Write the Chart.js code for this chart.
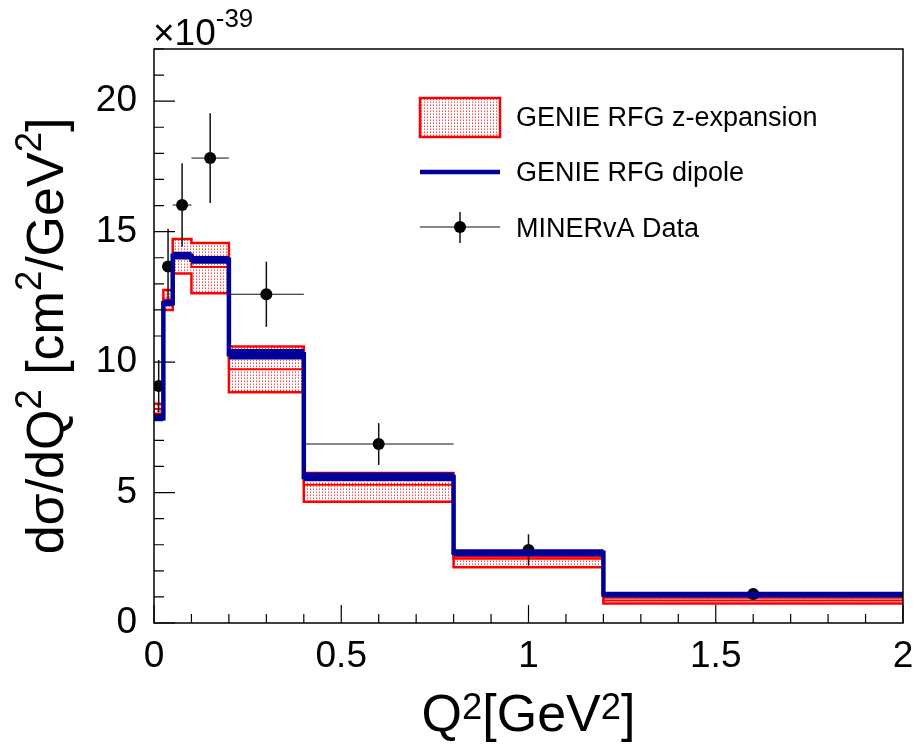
<!DOCTYPE html>
<html>
<head>
<meta charset="utf-8">
<script src="https://cdn.jsdelivr.net/npm/chart.js@4.4.1/dist/chart.umd.min.js"></script>
<style>
  html, body { margin: 0; padding: 0; background: #fff; }
  canvas { display: block; }
</style>
</head>
<body>
<canvas id="chart" width="919" height="747"></canvas>
<script>
// Q2 bin edges (GeV^2) and per-bin values (x1e-39 cm^2/GeV^2)
const binEdges = [0, 0.025, 0.05, 0.1, 0.2, 0.4, 0.8, 1.2, 2.0];

// GENIE RFG dipole (thick blue histogram) and its narrow stat band
const dipole = [7.85, 12.26, 14.08, 13.92, 10.3, 5.6, 2.69, 1.09];
const dipoleErr = [0.12, 0.12, 0.15, 0.15, 0.2, 0.17, 0.13, 0.11];

// GENIE RFG z-expansion band
const zexpHigh = [8.4, 12.76, 14.72, 14.56, 10.6, 5.75, 2.55, 0.98];
const zexpMid = [8.2, 12.4, 14.05, 13.64, 9.73, 5.3, 2.46, 0.86];
const zexpLow = [8.02, 12.0, 13.4, 12.64, 8.84, 4.65, 2.14, 0.75];

// MINERvA data points
const dataX = [0.0125, 0.0375, 0.075, 0.15, 0.3, 0.6, 1.0, 1.6];
const dataY = [9.08, 13.66, 16.02, 17.82, 12.6, 6.86, 2.8, 1.11];
const dataErr = [1.0, 1.45, 1.6, 1.72, 1.25, 0.8, 0.6, 0.23];

// tick labels
const xTickValues = [0, 0.5, 1, 1.5, 2];
const yTickValues = [0, 5, 10, 15, 20];

const FONT = '"Liberation Sans", Arial, Helvetica, sans-serif';
const BLUE = '#000099';
const RED = '#ff0000';

// turn per-bin values into step points (left edge of each bin + closing right edge)
function histPoints(vals) {
    return binEdges.map((x, i) => ({ x: x, y: vals[Math.min(i, vals.length - 1)] }));
}

const ctx = document.getElementById('chart').getContext('2d');

// dotted red fill like ROOT fill style
function dotPattern() {
    const c = document.createElement('canvas');
    c.width = 3; c.height = 3;
    const g = c.getContext('2d');
    g.fillStyle = '#fff';
    g.fillRect(0, 0, 3, 3);
    g.fillStyle = '#ff4d4d';
    g.fillRect(1, 0, 1, 1);
    g.fillStyle = '#ff9a9a';
    g.fillRect(1, 2, 1, 1);
    return ctx.createPattern(c, 'repeat');
}
const dots = dotPattern();

// draw text with superscripts; parts = [[text, isSup], ...]
function richText(g, parts, x, y, size, supScale, raise, align) {
    const supSize = size * supScale;
    let total = 0;
    parts.forEach(p => {
        g.font = (p[1] ? supSize : size) + 'px ' + FONT;
        total += g.measureText(p[0]).width;
    });
    let cx = align === 'center' ? x - total / 2 : x;
    g.textAlign = 'left';
    g.textBaseline = 'alphabetic';
    parts.forEach(p => {
        g.font = (p[1] ? supSize : size) + 'px ' + FONT;
        g.fillText(p[0], cx, p[1] ? y - raise : y);
        cx += g.measureText(p[0]).width;
    });
}

const rootStyle = {
    id: 'rootStyle',
    afterDatasetDraw(chart, args) {
        // error bars for the data set, drawn before the blue histogram goes over them
        if (args.index !== 3) return;
        const xs = chart.scales.x, ys = chart.scales.y;
        const g = chart.ctx;
        g.save();
        g.strokeStyle = '#111';
        dataX.forEach((x, i) => {
            const px = xs.getPixelForValue(x);
            const py = ys.getPixelForValue(dataY[i]);
            g.lineWidth = 1.5;
            g.beginPath();
            g.moveTo(px, ys.getPixelForValue(dataY[i] + dataErr[i]));
            g.lineTo(px, ys.getPixelForValue(dataY[i] - dataErr[i]));
            g.stroke();
            g.lineWidth = 1;
            g.beginPath();
            g.moveTo(xs.getPixelForValue(binEdges[i]), py);
            g.lineTo(xs.getPixelForValue(binEdges[i + 1]), py);
            g.stroke();
        });
        g.restore();
    },
    afterDraw(chart) {
        const g = chart.ctx;
        const a = chart.chartArea;
        const xs = chart.scales.x, ys = chart.scales.y;
        g.save();
        g.strokeStyle = '#000';
        g.lineWidth = 1.5;
        g.strokeRect(a.left, a.top, a.right - a.left, a.bottom - a.top);

        // inward ticks
        g.lineWidth = 1.2;
        g.beginPath();
        for (let k = 0; k <= 20; k++) {
            const px = xs.getPixelForValue(k * 0.1);
            const len = k % 5 === 0 ? 18 : 9;
            g.moveTo(px, a.bottom);
            g.lineTo(px, a.bottom - len);
        }
        for (let k = 0; k <= 22; k++) {
            const py = ys.getPixelForValue(k);
            const len = k % 5 === 0 ? 21 : 10;
            g.moveTo(a.left, py);
            g.lineTo(a.left + len, py);
        }
        g.stroke();

        g.fillStyle = '#000';
        // exponent
        richText(g, [['\u00d710', false], ['-39', true]], 153, 45, 37, 0.7, 18, 'left');

        // axis titles
        richText(g, [['Q', false], ['2', true], ['[GeV', false], ['2', true], [']', false]],
            (a.left + a.right) / 2, 731, 52, 0.7, 12, 'center');
        g.save();
        g.translate(63, (a.top + a.bottom) / 2);
        g.rotate(-Math.PI / 2);
        richText(g, [['d\u03c3/dQ', false], ['2', true], [' [cm', false], ['2', true],
            ['/GeV', false], ['2', true], [']', false]], 0, 0, 52, 0.7, 22, 'center');
        g.restore();

        // legend
        g.fillStyle = dots;
        g.fillRect(420, 98, 80, 39);
        g.strokeStyle = RED;
        g.lineWidth = 2.5;
        g.strokeRect(420, 98, 80, 39);

        g.strokeStyle = BLUE;
        g.lineWidth = 4.5;
        g.beginPath();
        g.moveTo(420, 172);
        g.lineTo(500, 172);
        g.stroke();

        g.strokeStyle = '#111';
        g.lineWidth = 1;
        g.beginPath();
        g.moveTo(420, 227);
        g.lineTo(500, 227);
        g.stroke();
        g.lineWidth = 1.5;
        g.beginPath();
        g.moveTo(460, 212);
        g.lineTo(460, 243);
        g.stroke();
        g.fillStyle = '#000';
        g.beginPath();
        g.arc(460, 227, 6, 0, Math.PI * 2);
        g.fill();

        g.font = '27px ' + FONT;
        g.textAlign = 'left';
        g.textBaseline = 'alphabetic';
        g.fillText('GENIE RFG z-expansion', 516, 126);
        g.fillText('GENIE RFG dipole', 516, 181);
        g.fillText('MINERvA Data', 516, 237);
        g.restore();
    }
};

new Chart(ctx, {
    type: 'line',
    data: {
        datasets: [
            {
                label: 'GENIE RFG dipole',
                data: histPoints(dipole),
                stepped: 'before',
                borderColor: BLUE,
                borderWidth: 4.5,
                pointRadius: 0,
                fill: false,
                order: 0
            },
            {
                label: 'dipole band up',
                data: histPoints(dipole.map((v, i) => v + dipoleErr[i])),
                stepped: 'before',
                borderColor: 'transparent',
                borderWidth: 0,
                pointRadius: 0,
                fill: false,
                order: 1
            },
            {
                label: 'dipole band down',
                data: histPoints(dipole.map((v, i) => v - dipoleErr[i])),
                stepped: 'before',
                borderColor: 'transparent',
                borderWidth: 0,
                backgroundColor: BLUE,
                pointRadius: 0,
                fill: 1,
                order: 2
            },
            {
                label: 'MINERvA Data',
                type: 'scatter',
                data: dataX.map((x, i) => ({ x: x, y: dataY[i] })),
                showLine: false,
                pointRadius: 6,
                pointBackgroundColor: '#000',
                pointBorderColor: '#000',
                pointBorderWidth: 0,
                order: 3
            },
            {
                label: 'z-expansion central',
                data: histPoints(zexpMid),
                stepped: 'before',
                borderColor: RED,
                borderWidth: 2,
                pointRadius: 0,
                fill: false,
                order: 4
            },
            {
                label: 'z-expansion high',
                data: histPoints(zexpHigh),
                stepped: 'before',
                borderColor: RED,
                borderWidth: 2.5,
                pointRadius: 0,
                fill: false,
                order: 5
            },
            {
                label: 'GENIE RFG z-expansion',
                data: histPoints(zexpLow),
                stepped: 'before',
                borderColor: RED,
                borderWidth: 2.5,
                backgroundColor: dots,
                pointRadius: 0,
                fill: 5,
                order: 6
            }
        ]
    },
    options: {
        responsive: false,
        animation: false,
        devicePixelRatio: 1,
        layout: { padding: { left: 0, right: 16, top: 49, bottom: 0 } },
        plugins: {
            legend: { display: false },
            tooltip: { enabled: false }
        },
        scales: {
            x: {
                type: 'linear',
                min: 0,
                max: 2,
                afterBuildTicks: s => { s.ticks = xTickValues.map(v => ({ value: v })); },
                afterFit: s => { s.height = 124; s.paddingLeft = 0; s.paddingRight = 0; },
                grid: { display: false, drawTicks: false },
                border: { display: false },
                ticks: {
                    padding: 12,
                    maxRotation: 0,
                    autoSkip: false,
                    color: '#000',
                    font: { family: FONT, size: 37 },
                    callback: v => String(v)
                }
            },
            y: {
                type: 'linear',
                min: 0,
                max: 22,
                afterBuildTicks: s => { s.ticks = yTickValues.map(v => ({ value: v })); },
                afterFit: s => { s.width = 154; s.paddingTop = 0; s.paddingBottom = 0; },
                grid: { display: false, drawTicks: false },
                border: { display: false },
                ticks: {
                    padding: 17,
                    color: '#000',
                    font: { family: FONT, size: 37 },
                    callback: v => String(v)
                }
            }
        }
    },
    plugins: [rootStyle]
});
</script>
</body>
</html>
